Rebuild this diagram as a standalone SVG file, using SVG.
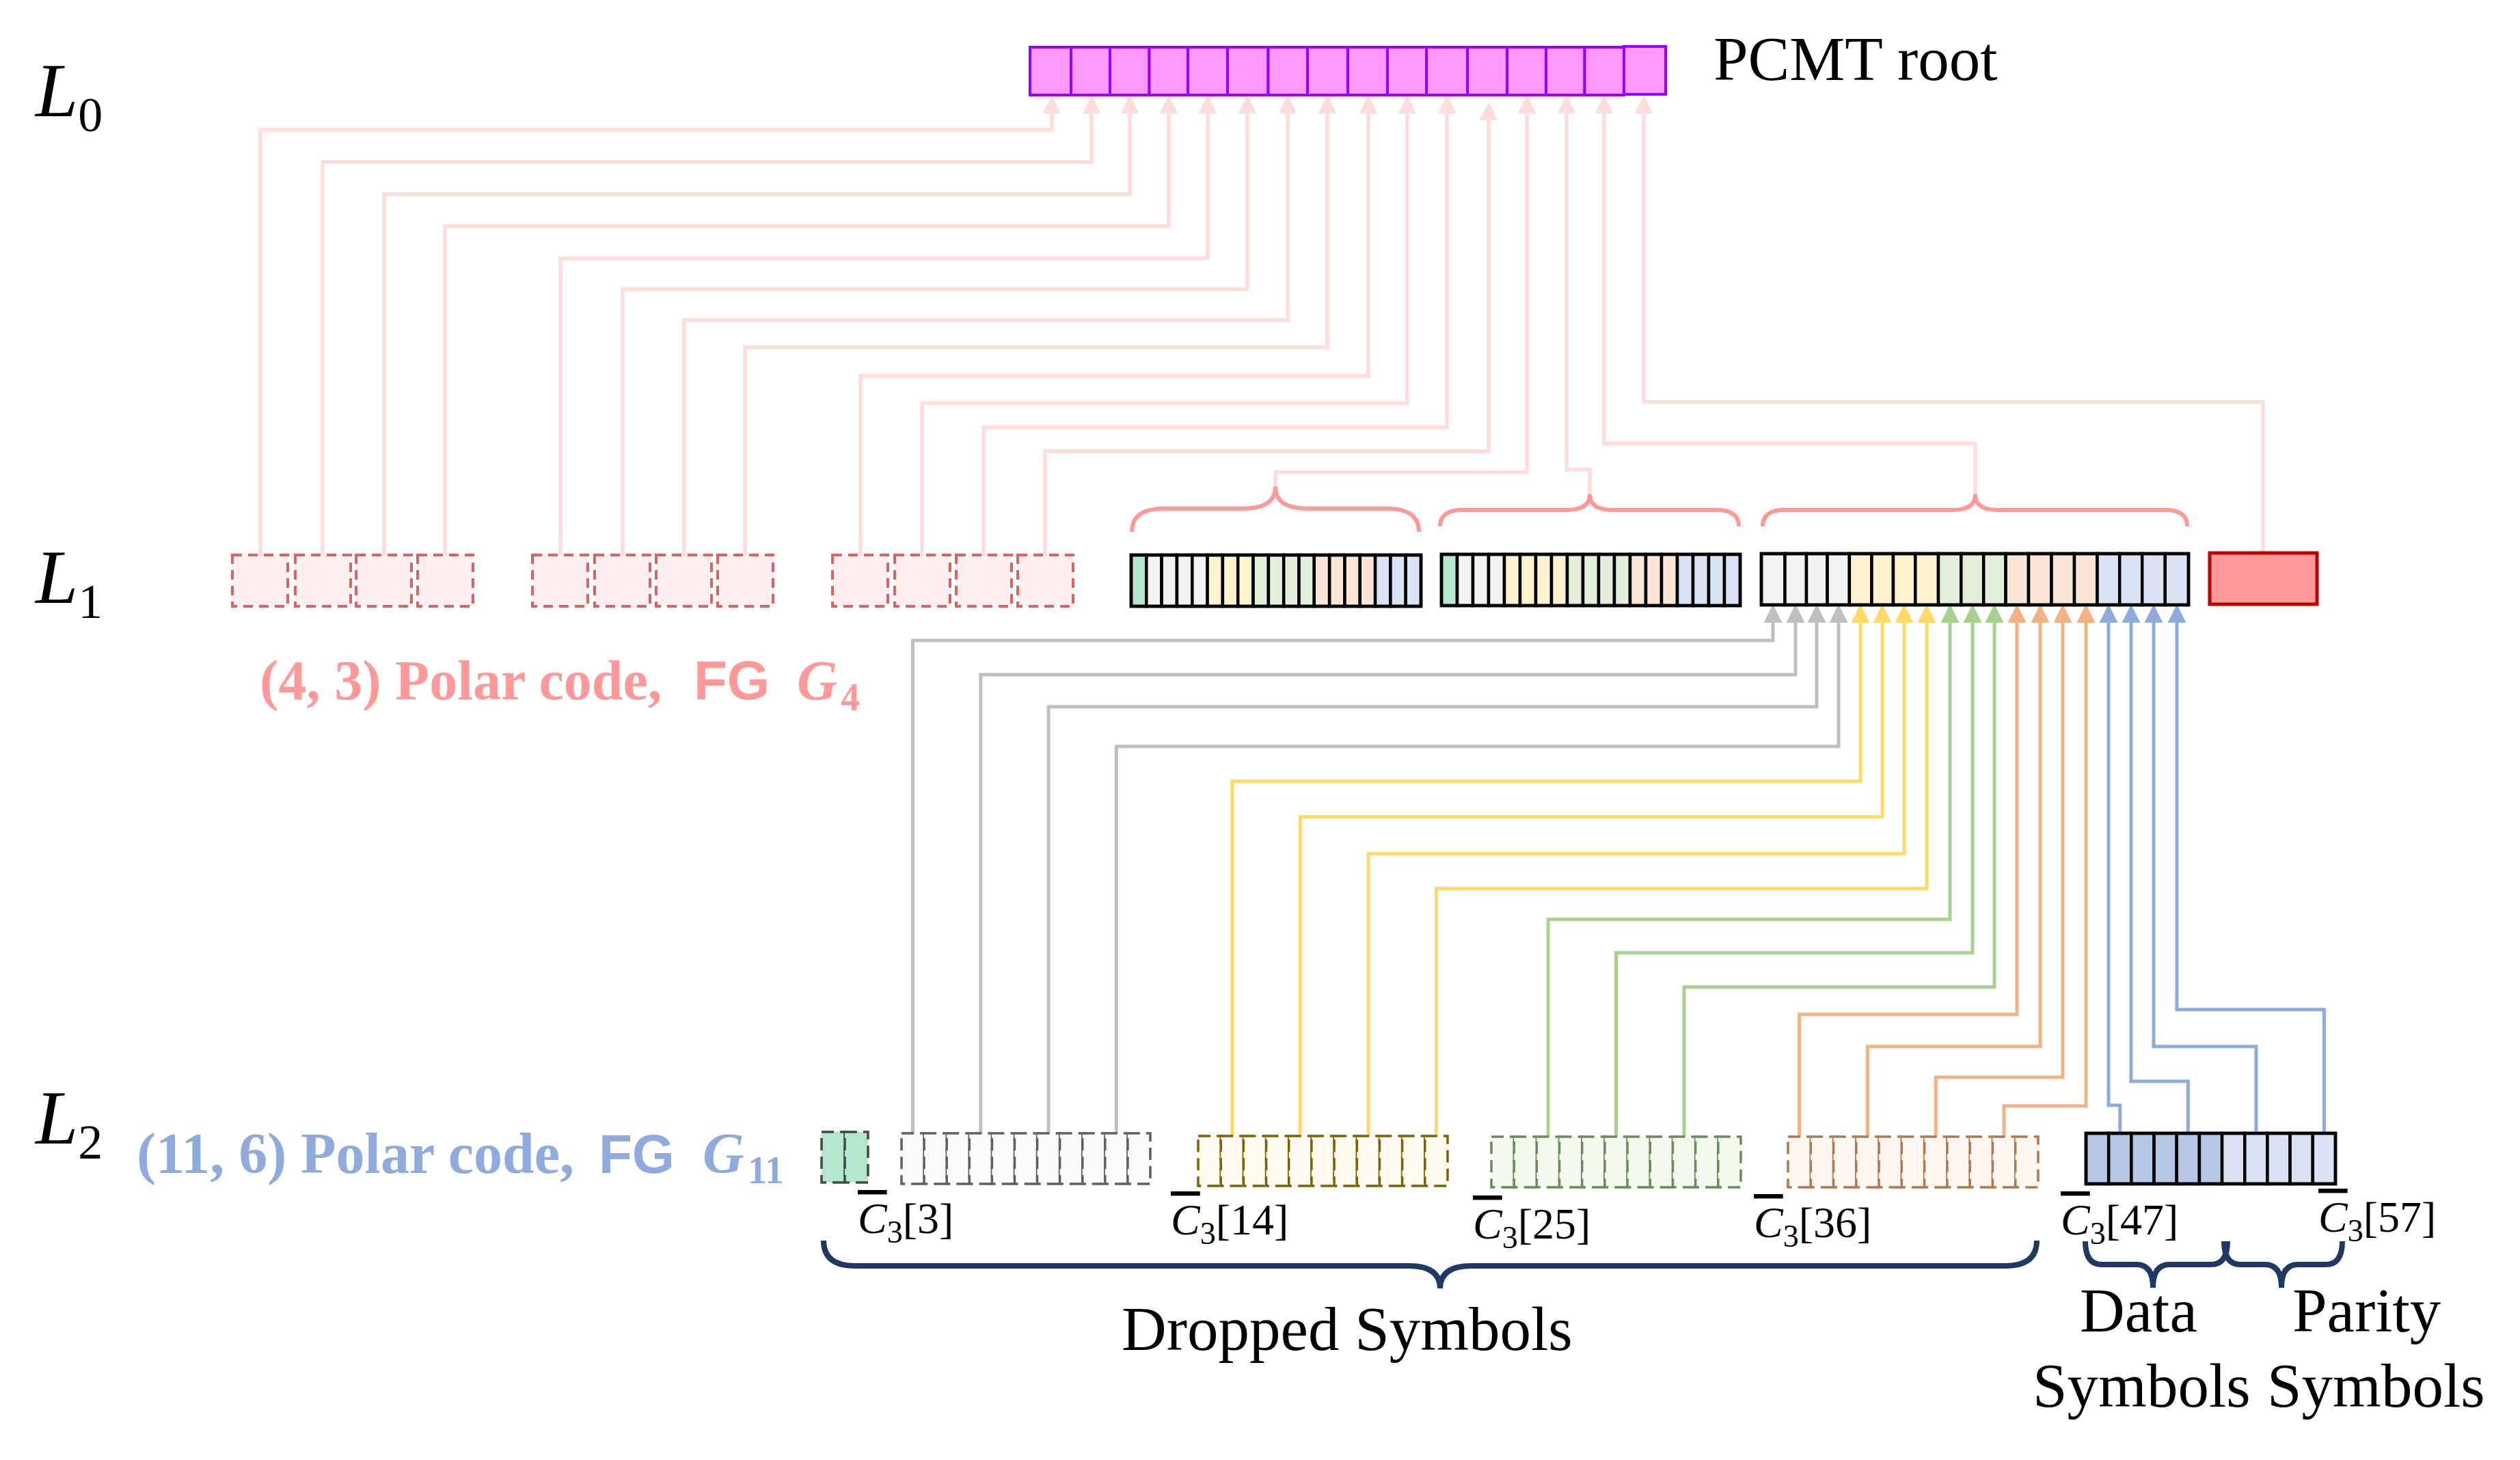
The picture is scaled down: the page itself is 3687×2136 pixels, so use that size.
<svg xmlns="http://www.w3.org/2000/svg" width="3687" height="2136" viewBox="0 0 3687 2136">
<style>
text{font-family:"Liberation Serif","Times New Roman",serif;fill:#000}
.lvl{font-size:112px;font-style:italic}
.lvl tspan{font-style:normal;font-size:72px}
.big{font-size:91px}
.clab{font-size:64px}
.clab .ov{font-style:italic;text-decoration:overline}
.sub{font-size:46px}
.cp{fill:none;stroke:#FFDDDD;stroke-width:5.5;marker-end:url(#ah-pink)}
.cg{fill:none;stroke:#BFBFBF;stroke-width:5;marker-end:url(#ah-gray)}
.cy{fill:none;stroke:#FFD966;stroke-width:5;marker-end:url(#ah-yellow)}
.cl{fill:none;stroke:#A9D18E;stroke-width:5;marker-end:url(#ah-green)}
.co{fill:none;stroke:#F4B183;stroke-width:5;marker-end:url(#ah-peach)}
.cb{fill:none;stroke:#8FAADC;stroke-width:5;marker-end:url(#ah-blue)}
.l0 rect{fill:#FF99FF;stroke:#9900FF;stroke-width:4}
.sol rect{stroke:#000;stroke-width:4.5}
.dl1 rect{fill:#FDEFEF;stroke:#D86464;stroke-width:4;stroke-dasharray:14 9}
.dsh rect{stroke-width:3.5;stroke-dasharray:18 9}
.G{fill:#B3E6CC}.g{fill:#F2F2F2}.y{fill:#FFF2CC}.lg{fill:#E2F0D9}.p{fill:#FBE5D6}.b{fill:#DAE3F3}.bd{fill:#B4C7E7}
.brp{fill:none;stroke:#FF9999;stroke-width:6}
.brn{fill:none;stroke:#203864;stroke-width:8}
</style>
<defs>
<marker id="ah-pink" markerUnits="userSpaceOnUse" markerWidth="27" markerHeight="27" viewBox="0 0 27 27" refX="0" refY="13.5" orient="auto"><path d="M0,0 L27,13.5 L0,27 Z" fill="#FFDDDD"/></marker>
<marker id="ah-gray" markerUnits="userSpaceOnUse" markerWidth="27" markerHeight="27" viewBox="0 0 27 27" refX="0" refY="13.5" orient="auto"><path d="M0,0 L27,13.5 L0,27 Z" fill="#BFBFBF"/></marker>
<marker id="ah-yellow" markerUnits="userSpaceOnUse" markerWidth="27" markerHeight="27" viewBox="0 0 27 27" refX="0" refY="13.5" orient="auto"><path d="M0,0 L27,13.5 L0,27 Z" fill="#FFD966"/></marker>
<marker id="ah-green" markerUnits="userSpaceOnUse" markerWidth="27" markerHeight="27" viewBox="0 0 27 27" refX="0" refY="13.5" orient="auto"><path d="M0,0 L27,13.5 L0,27 Z" fill="#A9D18E"/></marker>
<marker id="ah-peach" markerUnits="userSpaceOnUse" markerWidth="27" markerHeight="27" viewBox="0 0 27 27" refX="0" refY="13.5" orient="auto"><path d="M0,0 L27,13.5 L0,27 Z" fill="#F4B183"/></marker>
<marker id="ah-blue" markerUnits="userSpaceOnUse" markerWidth="27" markerHeight="27" viewBox="0 0 27 27" refX="0" refY="13.5" orient="auto"><path d="M0,0 L27,13.5 L0,27 Z" fill="#8FAADC"/></marker>
</defs>
<rect width="3687" height="2136" fill="#fff"/>

<g id="connectors">
<path class="cp" d="M381,814 V190 H1539 V166"/>
<path class="cp" d="M472,814 V237 H1597 V166"/>
<path class="cp" d="M562,814 V284 H1653 V166"/>
<path class="cp" d="M651,814 V331 H1710 V166"/>
<path class="cp" d="M820,814 V378 H1767 V166"/>
<path class="cp" d="M911,814 V423 H1825 V166"/>
<path class="cp" d="M1001,814 V468 H1884 V166"/>
<path class="cp" d="M1090,814 V508 H1942 V166"/>
<path class="cp" d="M1259,814 V550 H2002 V166"/>
<path class="cp" d="M1349,814 V590 H2059 V166"/>
<path class="cp" d="M1439,814 V625 H2117 V166"/>
<path class="cp" d="M1529,814 V660 H2178 V176"/>
<path class="cp" d="M1866,712 V691 H2234 V166"/>
<path class="cp" d="M2326,723 V687 H2292 V166"/>
<path class="cp" d="M2890,723 V649 H2347 V166"/>
<path class="cp" d="M3311,809 V588 H2405 V166"/>

<path class="cg" d="M1335.5,1658 V937 H2594 V911"/>
<path class="cg" d="M1434.8,1658 V987 H2627 V911"/>
<path class="cg" d="M1534.1,1658 V1034 H2658 V911"/>
<path class="cg" d="M1633.4,1658 V1092 H2690 V911"/>
<path class="cy" d="M1802.8,1662 V1143 H2722 V911"/>
<path class="cy" d="M1902.3,1662 V1195 H2754 V911"/>
<path class="cy" d="M2001.9,1662 V1249 H2786 V911"/>
<path class="cy" d="M2101.4,1662 V1300 H2819 V911"/>
<path class="cl" d="M2265,1663 V1345 H2853 V911"/>
<path class="cl" d="M2364.5,1663 V1394 H2886 V911"/>
<path class="cl" d="M2464,1663 V1444 H2918 V911"/>
<path class="co" d="M2632.6,1663 V1484 H2951 V911"/>
<path class="co" d="M2732.4,1663 V1531 H2985 V911"/>
<path class="co" d="M2832.3,1663 V1576 H3018 V911"/>
<path class="co" d="M2932,1663 V1618 H3052 V911"/>
<path class="cb" d="M3101.8,1658 V1617 H3085 V911"/>
<path class="cb" d="M3201.3,1658 V1582 H3118 V911"/>
<path class="cb" d="M3300.9,1658 V1531 H3151 V911"/>
<path class="cb" d="M3400.4,1658 V1477 H3185 V911"/>
</g>

<g id="labels-levels">
<text class="lvl" x="52" y="170">L<tspan dy="22">0</tspan></text>
<text class="lvl" x="52" y="882">L<tspan dy="22">1</tspan></text>
<text class="lvl" x="52" y="1673">L<tspan dy="22">2</tspan></text>
</g>

<g id="pcmt-root" class="l0">
<rect x="1507" y="69" width="60" height="70"/>
<rect x="1567" y="69" width="57" height="70"/>
<rect x="1624" y="69" width="57.5" height="70"/>
<rect x="1681.5" y="69" width="56.5" height="70"/>
<rect x="1738" y="69" width="58" height="70"/>
<rect x="1796" y="69" width="59.5" height="70"/>
<rect x="1855.5" y="69" width="57.5" height="70"/>
<rect x="1913" y="69" width="59" height="70"/>
<rect x="1972" y="69" width="58" height="70"/>
<rect x="2030" y="69" width="57" height="70"/>
<rect x="2087" y="69" width="60" height="70"/>
<rect x="2147" y="69" width="58" height="70"/>
<rect x="2205" y="69" width="57" height="70"/>
<rect x="2262" y="69" width="56.5" height="70"/>
<rect x="2318.5" y="69" width="57.5" height="70"/>
<rect x="2376" y="68" width="61" height="70"/>
<text x="2507" y="117" class="big" style="fill:#000">PCMT root</text>
</g>

<g id="l1-dashed-1" class="dl1">
<rect x="340" y="812" width="81" height="75"/><rect x="432" y="812" width="81" height="75"/><rect x="521" y="812" width="81" height="75"/><rect x="611" y="812" width="81" height="75"/>
</g>
<g id="l1-dashed-2" class="dl1">
<rect x="779" y="812" width="81" height="75"/><rect x="870" y="812" width="81" height="75"/><rect x="960" y="812" width="81" height="75"/><rect x="1050" y="812" width="81" height="75"/>
</g>
<g id="l1-dashed-3" class="dl1">
<rect x="1218" y="812" width="81" height="75"/><rect x="1309" y="812" width="81" height="75"/><rect x="1399" y="812" width="81" height="75"/><rect x="1489" y="812" width="81" height="75"/>
</g>

<g id="l1-box1" class="sol">
<rect class="G" x="1655" y="812" width="22.3" height="75"/>
<rect class="g" x="1677.3" y="812" width="22.3" height="75"/>
<rect class="g" x="1699.6" y="812" width="22.3" height="75"/>
<rect class="g" x="1722" y="812" width="22.3" height="75"/>
<rect class="g" x="1744.3" y="812" width="22.3" height="75"/>
<rect class="y" x="1766.6" y="812" width="22.3" height="75"/>
<rect class="y" x="1788.9" y="812" width="22.3" height="75"/>
<rect class="y" x="1811.2" y="812" width="22.3" height="75"/>
<rect class="lg" x="1833.6" y="812" width="22.3" height="75"/>
<rect class="lg" x="1855.9" y="812" width="22.3" height="75"/>
<rect class="lg" x="1878.2" y="812" width="22.3" height="75"/>
<rect class="lg" x="1900.5" y="812" width="22.3" height="75"/>
<rect class="p" x="1922.8" y="812" width="22.3" height="75"/>
<rect class="p" x="1945.2" y="812" width="22.3" height="75"/>
<rect class="p" x="1967.5" y="812" width="22.3" height="75"/>
<rect class="p" x="1989.8" y="812" width="22.3" height="75"/>
<rect class="b" x="2012.1" y="812" width="22.3" height="75"/>
<rect class="b" x="2034.4" y="812" width="22.3" height="75"/>
<rect class="b" x="2056.7" y="812" width="22.3" height="75"/>
<rect x="1655" y="812" width="424" height="75" fill="none"/>
</g>

<g id="l1-box2" class="sol">
<rect class="G" x="2109" y="811" width="23" height="75"/>
<rect class="g" x="2132" y="811" width="23" height="75"/>
<rect class="g" x="2155" y="811" width="23" height="75"/>
<rect class="g" x="2178" y="811" width="23" height="75"/>
<rect class="y" x="2201" y="811" width="23" height="75"/>
<rect class="y" x="2224" y="811" width="23" height="75"/>
<rect class="y" x="2247" y="811" width="23" height="75"/>
<rect class="y" x="2270" y="811" width="23" height="75"/>
<rect class="lg" x="2293" y="811" width="23" height="75"/>
<rect class="lg" x="2316" y="811" width="23" height="75"/>
<rect class="lg" x="2339" y="811" width="23" height="75"/>
<rect class="lg" x="2362" y="811" width="23" height="75"/>
<rect class="p" x="2385" y="811" width="23" height="75"/>
<rect class="p" x="2408" y="811" width="23" height="75"/>
<rect class="p" x="2431" y="811" width="23" height="75"/>
<rect class="b" x="2454" y="811" width="23" height="75"/>
<rect class="b" x="2477" y="811" width="23" height="75"/>
<rect class="b" x="2500" y="811" width="23" height="75"/>
<rect class="b" x="2523" y="811" width="23" height="75"/>
<rect x="2109" y="811" width="437" height="75" fill="none"/>
</g>

<g id="l1-box3" class="sol">
<rect class="g" x="2577" y="810" width="34.5" height="75"/>
<rect class="g" x="2611.5" y="810" width="31.5" height="75"/>
<rect class="g" x="2643" y="810" width="30.6" height="75"/>
<rect class="g" x="2673.6" y="810" width="32.3" height="75"/>
<rect class="y" x="2705.9" y="810" width="32.6" height="75"/>
<rect class="y" x="2738.5" y="810" width="31.5" height="75"/>
<rect class="y" x="2770" y="810" width="32.3" height="75"/>
<rect class="y" x="2802.3" y="810" width="33.7" height="75"/>
<rect class="lg" x="2836" y="810" width="33.3" height="75"/>
<rect class="lg" x="2869.3" y="810" width="32.9" height="75"/>
<rect class="lg" x="2902.2" y="810" width="32.4" height="75"/>
<rect class="p" x="2934.6" y="810" width="33.4" height="75"/>
<rect class="p" x="2968" y="810" width="33.5" height="75"/>
<rect class="p" x="3001.5" y="810" width="33.5" height="75"/>
<rect class="p" x="3035" y="810" width="33.5" height="75"/>
<rect class="b" x="3068.5" y="810" width="32.7" height="75"/>
<rect class="b" x="3101.2" y="810" width="33" height="75"/>
<rect class="b" x="3134.2" y="810" width="33.6" height="75"/>
<rect class="b" x="3167.8" y="810" width="34.2" height="75"/>
<rect x="2577" y="810" width="625" height="75" fill="none"/>
</g>

<g id="l1-red">
<rect x="3233" y="809" width="157" height="75" fill="#FF9999" stroke="#C00000" stroke-width="5"/>
</g>

<g id="l1-braces">
<path class="brp" d="M1656,778 Q1656,744 1703,744 H1819 Q1866,744 1866,712 Q1866,744 1913,744 H2029 Q2076,744 2076,778"/>
<path class="brp" d="M2107,770 Q2107,746 2140,746 H2293 Q2326,746 2326,723 Q2326,746 2359,746 H2511 Q2544,746 2544,770"/>
<path class="brp" d="M2579,770 Q2579,746 2611,746 H2858 Q2890,746 2890,723 Q2890,746 2922,746 H3168 Q3200,746 3200,770"/>
</g>

<g id="label-l1">
<text x="380" y="1023" style="font-size:82px;font-weight:bold;fill:#FF9999">(4, 3) Polar code,<tspan x="1015" style="font-family:'Liberation Sans',Arial,sans-serif;font-size:80px">FG</tspan><tspan x="1166" style="font-style:italic">G</tspan><tspan x="1230" dy="16" style="font-size:56px">4</tspan></text>
</g>

<g id="label-l2">
<text x="200" y="1716" style="font-size:84px;font-weight:bold;fill:#8FAADC">(11, 6) Polar code,<tspan x="876" style="font-family:'Liberation Sans',Arial,sans-serif;font-size:80px">FG</tspan><tspan x="1028" style="font-style:italic">G</tspan><tspan x="1094" dy="15" style="font-size:56px">11</tspan></text>
</g>

<g id="l2-green" class="dsh">
<rect x="1202" y="1656" width="34" height="74" fill="#B3E6CC" stroke="#3F4A42"/>
<rect x="1236" y="1656" width="34" height="74" fill="#B3E6CC" stroke="#3F4A42"/>
</g>

<g id="l2-gray" class="dsh" fill="#FAFAFA" stroke="#5F5F5F">
<rect x="1319" y="1658" width="33.09" height="74"/><rect x="1352.09" y="1658" width="33.09" height="74"/><rect x="1385.18" y="1658" width="33.09" height="74"/><rect x="1418.27" y="1658" width="33.09" height="74"/><rect x="1451.36" y="1658" width="33.09" height="74"/><rect x="1484.45" y="1658" width="33.09" height="74"/><rect x="1517.54" y="1658" width="33.09" height="74"/><rect x="1550.63" y="1658" width="33.09" height="74"/><rect x="1583.72" y="1658" width="33.09" height="74"/><rect x="1616.81" y="1658" width="33.09" height="74"/><rect x="1649.9" y="1658" width="33.09" height="74"/>
</g>

<g id="l2-yellow" class="dsh" fill="#FFFBF0" stroke="#7F6000">
<rect x="1753" y="1662" width="33.18" height="73"/><rect x="1786.18" y="1662" width="33.18" height="73"/><rect x="1819.36" y="1662" width="33.18" height="73"/><rect x="1852.54" y="1662" width="33.18" height="73"/><rect x="1885.72" y="1662" width="33.18" height="73"/><rect x="1918.9" y="1662" width="33.18" height="73"/><rect x="1952.08" y="1662" width="33.18" height="73"/><rect x="1985.26" y="1662" width="33.18" height="73"/><rect x="2018.44" y="1662" width="33.18" height="73"/><rect x="2051.62" y="1662" width="33.18" height="73"/><rect x="2084.8" y="1662" width="33.18" height="73"/>
</g>

<g id="l2-lightgreen" class="dsh" fill="#F4F9F0" stroke="#6A8A56">
<rect x="2182" y="1663" width="33.18" height="74"/><rect x="2215.18" y="1663" width="33.18" height="74"/><rect x="2248.36" y="1663" width="33.18" height="74"/><rect x="2281.54" y="1663" width="33.18" height="74"/><rect x="2314.72" y="1663" width="33.18" height="74"/><rect x="2347.9" y="1663" width="33.18" height="74"/><rect x="2381.08" y="1663" width="33.18" height="74"/><rect x="2414.26" y="1663" width="33.18" height="74"/><rect x="2447.44" y="1663" width="33.18" height="74"/><rect x="2480.62" y="1663" width="33.18" height="74"/><rect x="2513.8" y="1663" width="33.18" height="74"/>
</g>

<g id="l2-peach" class="dsh" fill="#FFF7F2" stroke="#B07850">
<rect x="2616" y="1663" width="33.27" height="74"/><rect x="2649.27" y="1663" width="33.27" height="74"/><rect x="2682.54" y="1663" width="33.27" height="74"/><rect x="2715.81" y="1663" width="33.27" height="74"/><rect x="2749.08" y="1663" width="33.27" height="74"/><rect x="2782.35" y="1663" width="33.27" height="74"/><rect x="2815.62" y="1663" width="33.27" height="74"/><rect x="2848.89" y="1663" width="33.27" height="74"/><rect x="2882.16" y="1663" width="33.27" height="74"/><rect x="2915.43" y="1663" width="33.27" height="74"/><rect x="2948.7" y="1663" width="33.27" height="74"/>
</g>

<g id="l2-blue" class="sol">
<rect class="bd" x="3052" y="1658" width="33.18" height="74"/><rect class="bd" x="3085.18" y="1658" width="33.18" height="74"/><rect class="bd" x="3118.36" y="1658" width="33.18" height="74"/><rect class="bd" x="3151.54" y="1658" width="33.18" height="74"/><rect class="bd" x="3184.72" y="1658" width="33.18" height="74"/><rect class="bd" x="3217.9" y="1658" width="33.18" height="74"/><rect class="b" x="3251.08" y="1658" width="33.18" height="74"/><rect class="b" x="3284.26" y="1658" width="33.18" height="74"/><rect class="b" x="3317.44" y="1658" width="33.18" height="74"/><rect class="b" x="3350.62" y="1658" width="33.18" height="74"/><rect class="b" x="3383.8" y="1658" width="33.18" height="74"/>
<rect x="3052" y="1658" width="365" height="74" fill="none"/>
</g>

<g id="l2-index-labels">
<text class="clab" x="1255" y="1804"><tspan class="ov">C</tspan><tspan class="sub" dy="14">3</tspan><tspan dy="-14">[3]</tspan></text>
<text class="clab" x="1713" y="1806"><tspan class="ov">C</tspan><tspan class="sub" dy="14">3</tspan><tspan dy="-14">[14]</tspan></text>
<text class="clab" x="2155" y="1812"><tspan class="ov">C</tspan><tspan class="sub" dy="14">3</tspan><tspan dy="-14">[25]</tspan></text>
<text class="clab" x="2566" y="1810"><tspan class="ov">C</tspan><tspan class="sub" dy="14">3</tspan><tspan dy="-14">[36]</tspan></text>
<text class="clab" x="3015" y="1806"><tspan class="ov">C</tspan><tspan class="sub" dy="14">3</tspan><tspan dy="-14">[47]</tspan></text>
<text class="clab" x="3392" y="1802"><tspan class="ov">C</tspan><tspan class="sub" dy="14">3</tspan><tspan dy="-14">[57]</tspan></text>
</g>

<g id="bottom-braces">
<path class="brn" d="M1205,1815 Q1205,1852 1251,1852 H2061 Q2107,1852 2107,1885 Q2107,1852 2153,1852 H2934 Q2980,1852 2980,1815"/>
<path class="brn" d="M3051,1816 Q3051,1850 3075,1850 H3126 Q3150,1850 3150,1884 Q3150,1850 3174,1850 H3235 Q3259,1850 3259,1816"/>
<path class="brn" d="M3254,1816 Q3254,1850 3278,1850 H3314 Q3338,1850 3338,1884 Q3338,1850 3362,1850 H3403 Q3427,1850 3427,1816"/>
</g>

<g id="bottom-labels">
<text class="big" x="1641" y="1975">Dropped Symbols</text>
<text class="big" x="3043" y="1948">Data</text>
<text class="big" x="3354" y="1948">Parity</text>
<text class="big" x="2974" y="2058">Symbols</text>
<text class="big" x="3317" y="2058">Symbols</text>
</g>
</svg>
